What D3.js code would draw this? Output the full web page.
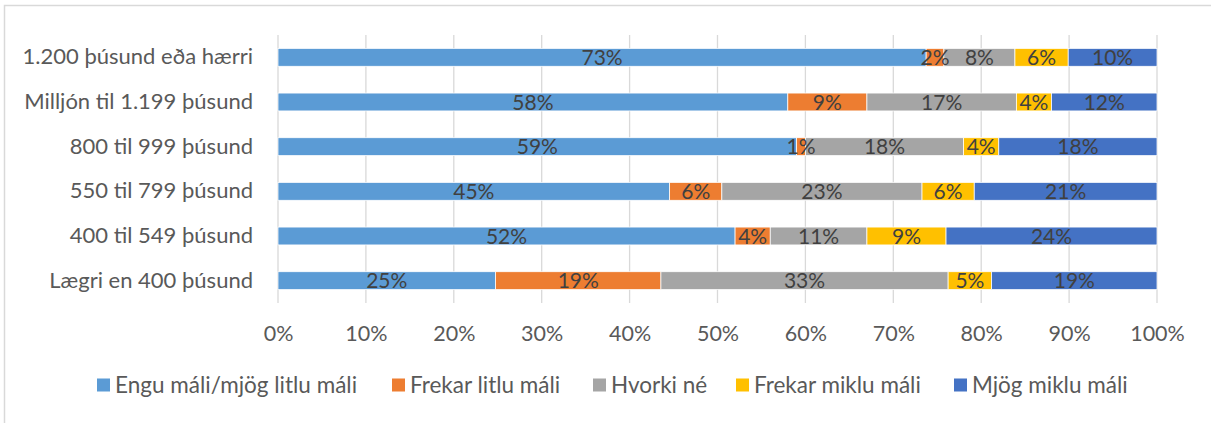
<!DOCTYPE html>
<html>
<head>
<meta charset="utf-8">
<script src="https://cdn.jsdelivr.net/npm/d3@7"></script>
<style>
  html, body { margin: 0; padding: 0; background: #fff; }
  svg { display: block; font-family: Lato, "Open Sans", sans-serif; }
</style>
</head>
<body>
<svg id="chart" width="1211" height="423"></svg>
<script>
// Income groups, top to bottom
const categories = [
  "1.200 þúsund eða hærri",
  "Milljón til 1.199 þúsund",
  "800 til 999 þúsund",
  "550 til 799 þúsund",
  "400 til 549 þúsund",
  "Lægri en 400 þúsund"
];

// Response options (stack order, left to right)
const seriesNames = [
  "Engu máli/mjög litlu máli",
  "Frekar litlu máli",
  "Hvorki né",
  "Frekar miklu máli",
  "Mjög miklu máli"
];

// Percentages per response option, in category order
const enguMali     = [73, 58, 59, 45, 52, 25];
const frekarLitlu  = [2, 9, 1, 6, 4, 19];
const hvorkiNe     = [8, 17, 18, 23, 11, 33];
const frekarMiklu  = [6, 4, 4, 6, 9, 5];
const mjogMiklu    = [10, 12, 18, 21, 24, 19];

const xTicks = [0, 0.1, 0.2, 0.3, 0.4, 0.5, 0.6, 0.7, 0.8, 0.9, 1];

const colors = ["#5B9BD5", "#ED7D31", "#A5A5A5", "#FFC000", "#4472C4"];

const seriesValues = [enguMali, frekarLitlu, hvorkiNe, frekarMiklu, mjogMiklu];
const rows = categories.map((c, i) => {
  const r = { category: c };
  seriesNames.forEach((s, j) => { r[s] = seriesValues[j][i]; });
  return r;
});

const svg = d3.select("#chart");

// Outer chart frame
svg.append("rect")
  .attr("x", 4.5).attr("y", 5.5)
  .attr("width", 1400).attr("height", 600)
  .attr("fill", "none").attr("stroke", "#d9d9d9").attr("stroke-width", 1.5);

const x = d3.scaleLinear().domain([0, 1]).range([278, 1157]);
const y = d3.scaleBand().domain(categories).range([35, 303])
  .paddingInner(0.6).paddingOuter(0.3);

// Vertical gridlines
svg.append("g").selectAll("line").data(xTicks).join("line")
  .attr("x1", d => x(d)).attr("x2", d => x(d))
  .attr("y1", 35).attr("y2", 303)
  .attr("stroke", "#d9d9d9").attr("stroke-width", 1.3);

// X axis labels
const xAxis = d3.axisBottom(x).tickValues(xTicks).tickFormat(d3.format(".0%")).tickSize(0).tickPadding(0);
const gx = svg.append("g").attr("transform", "translate(0,326)").call(xAxis);
gx.select(".domain").remove();
gx.selectAll("text")
  .attr("dy", "0.71em")
  .attr("fill", "#595959")
  .style("font-size", "21.5px")
  .style("font-family", "Lato, sans-serif");

// Y axis labels
const yAxis = d3.axisLeft(y).tickSize(0).tickPadding(0);
const gy = svg.append("g").attr("transform", "translate(253,0)").call(yAxis);
gy.select(".domain").remove();
gy.selectAll("text")
  .attr("fill", "#595959")
  .style("font-size", "22px")
  .style("font-family", "Lato, sans-serif");

// 100% stacked bars
const stack = d3.stack().keys(seriesNames).offset(d3.stackOffsetExpand);
const layers = stack(rows);

const layerG = svg.append("g").selectAll("g").data(layers).join("g")
  .attr("fill", (d, i) => colors[i]);

layerG.selectAll("rect").data(d => d).join("rect")
  .attr("x", d => x(d[0]))
  .attr("width", d => x(d[1]) - x(d[0]))
  .attr("y", d => y(d.data.category))
  .attr("height", y.bandwidth())
  .attr("stroke", "#ffffff").attr("stroke-width", 0.75);

// Data labels
const labelG = svg.append("g").selectAll("g").data(layers).join("g");
labelG.selectAll("text").data(d => d.map(v => ({ v, key: d.key }))).join("text")
  .attr("x", d => (x(d.v[0]) + x(d.v[1])) / 2)
  .attr("y", d => y(d.v.data.category) + y.bandwidth() / 2)
  .attr("dy", "0.36em")
  .attr("text-anchor", "middle")
  .attr("fill", "#404040")
  .style("font-size", "21px")
  .text(d => d.v.data[d.key] + "%");

// Legend
const legendX = [97, 392, 593, 736, 954];
const lg = svg.append("g").selectAll("g").data(seriesNames).join("g")
  .attr("transform", (d, i) => `translate(${legendX[i]},385)`);
lg.append("rect").attr("x", 0).attr("y", -6.5).attr("width", 13).attr("height", 13)
  .attr("fill", (d, i) => colors[i]);
lg.append("text").attr("x", 18).attr("dy", "0.36em")
  .attr("fill", "#595959").style("font-size", "22.5px")
  .text(d => d);
</script>
</body>
</html>
